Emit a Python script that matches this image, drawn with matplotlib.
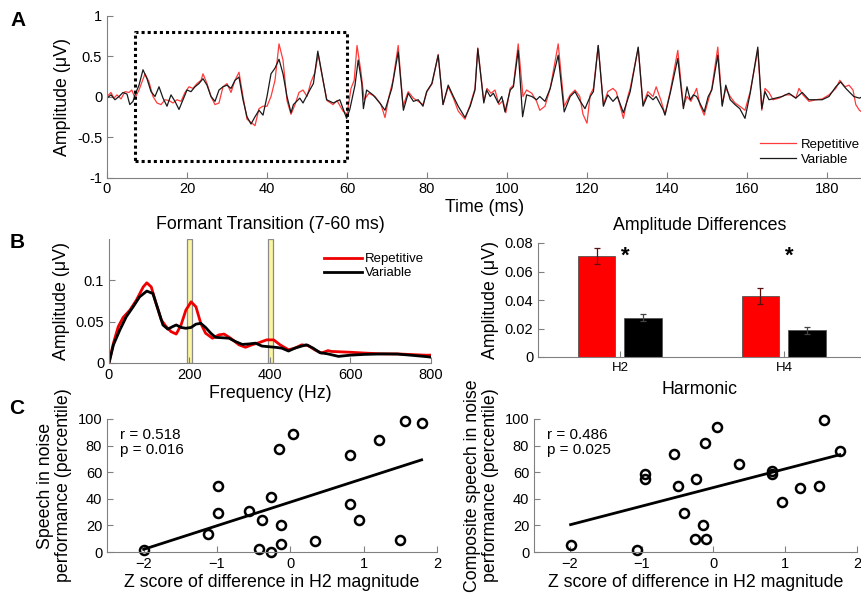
import matplotlib
matplotlib.use('Agg')
import matplotlib.pyplot as plt
import numpy as np

plt.rcParams['font.family'] = ['Liberation Sans', 'DejaVu Sans']
plt.rcParams['xtick.direction'] = 'in'
plt.rcParams['ytick.direction'] = 'in'

# --- panel A: averaged responses (time ms, amplitude uV)
var_t = [0, 1, 2, 3, 4, 5, 5.7, 6.5, 7, 8, 9, 10, 11, 12, 13, 14, 15, 16, 17, 18, 19, 20,
         21, 22, 23, 24, 25, 26, 27, 28, 29, 30, 31, 32, 33, 34, 35, 36, 37, 38, 39, 40,
         41, 42, 43, 44, 45, 46, 46.6, 48.2, 49, 50.7, 51.6, 52.7, 53.7, 54.9, 56.6, 58.2,
         59.9, 60.7, 62, 62.8, 63.7, 64.1, 64.9, 66.5, 68.2, 69.5, 71.2, 72.8, 74.1, 75.3,
         76.6, 77.8, 79, 79.9, 81.2, 82.8, 84, 85.3, 86.6, 87.8, 89.5, 90.8, 92, 92.7, 94.2,
         94.9, 95.8, 96.6, 97.8, 98.7, 99.5, 100.8, 101.6, 102.8, 103.9, 104.9, 106.2, 107.4,
         108.2, 109.5, 110.8, 112.8, 114.3, 115.8, 117, 118.2, 119.5, 120.8, 121.6, 122.8,
         124.1, 125.2, 126.5, 127.6, 129.1, 130.8, 132.8, 134, 135.2, 136.5, 137.3, 139.1,
         139.5, 140.8, 142.7, 144.1, 145, 145.8, 146.6, 147.4, 148.2, 149.3, 150.3, 151.2,
         152.7, 153.8, 154.7, 155.8, 157, 158.2, 159.5, 160.8, 162.7, 163.7, 164.5, 165.5,
         167.2, 168.8, 170.5, 172.2, 173.8, 175.5, 177.2, 178.8, 180.5, 182.2, 183.4, 184.7,
         186.7, 188.1, 189]
var_v = [-0.02, 0.02, -0.04, 0.0, 0.05, 0.03, -0.1, -0.06, 0.02, 0.14, 0.33, 0.22, 0.06, 0.0,
         0.12, -0.02, -0.12, 0.02, -0.06, -0.16, -0.04, 0.08, 0.06, 0.12, 0.16, 0.22, 0.14, 0.0,
         -0.06, 0.08, 0.12, 0.14, 0.1, 0.2, 0.24, -0.04, -0.25, -0.34, -0.25, -0.17, -0.23, 0.0,
         0.28, 0.35, 0.46, 0.28, 0.0, -0.2, -0.1, -0.02, -0.08, 0.08, 0.16, 0.56, 0.29, -0.04,
         -0.08, -0.04, -0.27, -0.16, 0.14, 0.45, 0.16, -0.15, 0.08, 0.02, -0.08, -0.17, 0.1,
         0.55, -0.17, 0.04, -0.06, -0.04, -0.12, 0.06, 0.16, 0.51, -0.1, 0.14, 0.0, -0.12, -0.26,
         -0.12, 0.08, 0.59, -0.08, 0.08, 0.0, 0.04, -0.08, 0.0, -0.19, 0.08, 0.12, 0.57, -0.25,
         0.02, 0.0, -0.04, 0.0, -0.06, 0.1, 0.51, -0.19, 0.0, 0.06, -0.05, -0.15, 0.0, 0.06, 0.63,
         -0.12, 0.02, -0.06, 0.0, -0.2, 0.06, 0.61, -0.12, 0.02, -0.04, 0.0, -0.17, -0.23, 0.04,
         0.47, -0.15, 0.12, -0.04, 0.02, 0.0, -0.08, -0.19, 0.0, 0.08, 0.51, -0.12, 0.14, -0.04,
         -0.1, -0.15, -0.27, 0.04, 0.61, -0.15, 0.06, -0.04, -0.02, 0.0, 0.04, -0.02, 0.05,
         -0.04, -0.04, -0.04, 0.0, 0.12, 0.18, 0.1, 0.0, -0.02, 0.0]

rep_t = [0, 1, 1.7, 2.5, 3.5, 4.5, 5.5, 6.2, 7, 8, 9.5, 10.5, 11.5, 12.5, 13.5, 14.5, 15.5,
         16.5, 17.5, 18.5, 19.5, 20.5, 21.5, 22.5, 23.5, 24, 25, 26, 27, 28, 29, 30, 31, 32,
         33, 34, 35, 36, 37, 38, 39, 40, 41, 42, 43, 44, 45, 46, 47, 48, 49, 50, 51, 52, 52.8,
         53.8, 55, 56.5, 57.5, 59, 60, 61, 61.8, 62.5, 63.5, 64.3, 65.5, 67, 68.5, 69.5, 70.5,
         71.5, 72.8, 74, 75.3, 76.6, 77.8, 79, 80, 81.3, 82.8, 84, 85.3, 86.6, 87.8, 89.5, 90.8,
         92, 92.7, 94.2, 95, 96, 97, 98, 99, 99.7, 100.8, 101.6, 102.8, 104, 104.9, 106.2,
         107.4, 108.2, 109.5, 110.8, 112.8, 114.3, 115.8, 117, 118.2, 119, 120, 120.8, 121.6,
         122.8, 124.1, 125.2, 126.5, 127.3, 128.2, 129.1, 130.2, 130.8, 132.8, 134, 135.2,
         136.5, 137.3, 138.5, 139.5, 140.8, 142.7, 144.1, 145, 146, 147.4, 148.2, 149.3, 150.3,
         151.2, 152.7, 153.8, 154.7, 155.8, 157, 158.2, 159.5, 160.8, 162.7, 163.7, 164.5,
         165.5, 166.5, 168, 169.5, 171, 172.2, 173, 174, 175.5, 177.2, 178.8, 180.5, 182.2,
         183.2, 184.5, 185.5, 186.5, 187.2, 188.1, 189]
rep_v = [0.0, 0.05, -0.02, 0.02, -0.03, 0.06, 0.05, 0.08, -0.02, 0.08, 0.28, 0.18, 0.0, -0.08,
         -0.1, -0.04, -0.05, -0.08, -0.04, -0.06, 0.05, 0.12, 0.1, 0.16, 0.2, 0.28, 0.16, 0.0,
         -0.1, -0.08, 0.12, 0.16, 0.05, 0.2, 0.3, 0.0, -0.28, -0.32, -0.36, -0.15, -0.12, -0.12,
         0.0, 0.2, 0.65, 0.45, -0.05, -0.22, -0.1, 0.05, 0.08, 0.0, 0.18, 0.3, 0.52, 0.25, -0.05,
         -0.1, -0.05, -0.18, -0.22, 0.1, 0.2, 0.63, 0.3, -0.04, 0.04, 0.0, -0.1, -0.26, 0.0, 0.2,
         0.63, -0.12, 0.06, -0.02, -0.06, -0.1, 0.06, 0.16, 0.52, -0.1, 0.12, -0.02, -0.18,
         -0.28, -0.1, 0.1, 0.6, -0.06, 0.1, 0.04, 0.08, -0.1, -0.05, -0.2, 0.1, 0.14, 0.65, 0.0,
         0.08, 0.04, -0.06, -0.17, -0.12, 0.1, 0.65, -0.12, 0.02, 0.08, 0.0, -0.22, -0.33, 0.02,
         0.1, 0.63, -0.1, 0.06, 0.1, 0.06, -0.1, -0.27, 0.0, 0.1, 0.6, -0.1, 0.06, 0.0, 0.12,
         -0.05, -0.22, 0.06, 0.57, -0.12, 0.0, -0.06, 0.1, -0.1, -0.23, -0.05, 0.1, 0.61, -0.1,
         0.1, 0.0, -0.08, -0.12, -0.17, 0.06, 0.57, -0.17, 0.1, 0.05, -0.04, -0.02, 0.02, 0.02,
         -0.02, 0.1, 0.02, -0.06, -0.04, -0.03, 0.02, 0.1, 0.2, 0.12, 0.14, 0.08, -0.1, -0.17,
         -0.2]

# --- panel B left: spectra of the formant transition
rep_f = [0, 11, 23, 35, 52, 68, 85, 94, 105, 117, 130, 142, 154, 167, 179, 191, 204, 216,
         228, 240, 257, 273, 286, 302, 323, 339, 355, 372, 392, 409, 425, 446, 462, 479, 495,
         511, 528, 544, 552, 600, 635, 680, 717, 760, 791, 800]
rep_a = [0, 0.024, 0.044, 0.055, 0.064, 0.076, 0.092, 0.097, 0.092, 0.072, 0.052, 0.044,
         0.038, 0.035, 0.046, 0.064, 0.074, 0.068, 0.048, 0.036, 0.030, 0.034, 0.035, 0.030,
         0.022, 0.019, 0.022, 0.0245, 0.028, 0.028, 0.022, 0.016, 0.018, 0.022, 0.021, 0.016,
         0.012, 0.015, 0.014, 0.013, 0.012, 0.011, 0.011, 0.010, 0.0094, 0.0096]
var_f = [0, 11, 27, 43, 60, 76, 94, 109, 121, 134, 146, 158, 167, 179, 191, 204, 216, 228,
         240, 253, 265, 282, 298, 314, 331, 347, 364, 380, 397, 413, 429, 446, 462, 479, 491,
         507, 524, 544, 570, 600, 635, 680, 717, 760, 791, 800]
var_a = [0, 0.022, 0.04, 0.056, 0.068, 0.08, 0.087, 0.084, 0.066, 0.046, 0.041, 0.044, 0.046,
         0.043, 0.042, 0.043, 0.047, 0.048, 0.043, 0.036, 0.031, 0.0305, 0.030, 0.026, 0.0225,
         0.023, 0.024, 0.0205, 0.0197, 0.019, 0.018, 0.0145, 0.018, 0.0205, 0.022, 0.018,
         0.0125, 0.011, 0.008, 0.0095, 0.0104, 0.011, 0.0108, 0.009, 0.0076, 0.007]
bands = [(195, 206), (396, 407)]

# --- panel B right: harmonic amplitudes
harmonics = ['H2', 'H4']
rep_amp = [0.0707, 0.0430]
rep_err = [0.0055, 0.0056]
var_amp = [0.0276, 0.0187]
var_err = [0.0025, 0.0023]

# --- panel C: correlations
zL = [-2.0, -1.12, -0.99, -0.99, -0.56, -0.39, -0.43, -0.26, -0.26, -0.13, -0.13, -0.16,
      0.04, 0.34, 0.81, 0.81, 0.94, 1.21, 1.49, 1.56, 1.79]
sinL = [1.8, 13.9, 29, 49.6, 31, 24, 2.3, 0, 41, 20, 6.3, 77.6, 89, 8.6, 73, 36, 24, 84, 8.8,
        98.7, 97]
zR = [-1.99, -1.07, -0.95, -0.95, -0.55, -0.49, -0.41, -0.24, -0.25, -0.10, -0.15, -0.12,
      0.05, 0.35, 0.82, 0.82, 0.95, 1.2, 1.47, 1.54, 1.76]
sinR = [5.5, 1.5, 59, 55, 74, 50, 29.5, 55, 9.8, 9.8, 20, 82, 94, 66.5, 61, 58.7, 37.5, 48,
        50, 99, 76]

W, H = 862, 595
fig = plt.figure(figsize=(W / 100, H / 100), dpi=100)
gray = '#808080'
LAB = 12.8
TCK = 10.5


def box(l, t, r, b):
    return [l / W, 1 - b / H, (r - l) / W, (b - t) / H]


def style(ax):
    for s in ['top', 'right']:
        ax.spines[s].set_visible(False)
    for s in ['left', 'bottom']:
        ax.spines[s].set_color(gray)
    ax.tick_params(colors=gray, labelcolor='k', labelsize=TCK, length=4)


# A
ax = fig.add_axes(box(107, 15.5, 863, 177.5))
style(ax)
ax.plot(rep_t, rep_v, color='#ff3b3b', lw=0.9, label='Repetitive')
ax.plot(var_t, var_v, color='#1a1a1a', lw=0.9, label='Variable')
ax.plot([7, 60, 60, 7, 7], [-0.8, -0.8, 0.8, 0.8, -0.8], color='k', lw=2.2, ls=(0, (1, 1)))
ax.set_xlim(0, 189)
ax.set_ylim(-1, 1)
ax.set_xticks(range(0, 181, 20))
ax.set_yticks([-1, -0.5, 0, 0.5, 1])
ax.set_yticklabels(['-1', '-0.5', '0', '0.5', '1'])
ax.set_xlabel('Time (ms)', fontsize=LAB, labelpad=2)
ax.set_ylabel('Amplitude (\u03bcV)', fontsize=LAB)
leg = ax.legend(loc='lower right', bbox_to_anchor=(1.005, 0.03), frameon=False, fontsize=9.5,
                handlelength=2.7, handletextpad=0.4, labelspacing=0.25, borderpad=0)

# B left
ax = fig.add_axes(box(109, 239, 431, 363))
style(ax)
for lo, hi in bands:
    ax.axvspan(lo, hi, facecolor='#fbf5a0', edgecolor='#8a8a8a', lw=0.9)
ax.plot(rep_f, rep_a, color='#ee0000', lw=2, label='Repetitive')
ax.plot(var_f, var_a, color='k', lw=2, label='Variable')
ax.set_xlim(0, 800)
ax.set_ylim(0, 0.15)
ax.set_xticks([0, 200, 400, 600, 800])
ax.set_yticks([0, 0.05, 0.1])
ax.set_yticklabels(['0', '0.05', '0.1'])
ax.set_xlabel('Frequency (Hz)', fontsize=LAB, labelpad=2)
ax.set_ylabel('Amplitude (\u03bcV)', fontsize=LAB)
ax.set_title('Formant Transition (7-60 ms)', fontsize=LAB, pad=7)
ax.legend(loc='upper right', bbox_to_anchor=(1.0, 0.94), frameon=False, fontsize=9.5,
          handlelength=2.9, handletextpad=0.25, labelspacing=0.15, borderpad=0)

# B right
ax = fig.add_axes(box(538, 243, 861, 357))
style(ax)
pos = np.arange(1, len(harmonics) + 1)
bw = 0.23
ax.bar(pos - 0.143, rep_amp, bw, yerr=rep_err, color='#ff0000', edgecolor='#555555', lw=0.6,
       error_kw=dict(ecolor='#5a1010', elinewidth=0.9, capsize=2, capthick=0.9))
ax.bar(pos + 0.14, var_amp, bw, yerr=var_err, color='k', edgecolor='#555555', lw=0.6,
       error_kw=dict(ecolor='#444444', elinewidth=0.9, capsize=2, capthick=0.9))
for p in pos:
    ax.text(p + 0.03, 0.0705, '*', fontsize=16, fontweight='bold', ha='center', va='center')
ax.set_xlim(0.5, 2.47)
ax.set_ylim(0, 0.08)
ax.set_xticks(pos)
ax.set_xticklabels(harmonics, fontsize=9.5)
ax.set_yticks([0, 0.02, 0.04, 0.06, 0.08])
ax.set_yticklabels(['0', '0.02', '0.04', '0.06', '0.08'])
ax.set_xlabel('Harmonic', fontsize=LAB, labelpad=5)
ax.set_ylabel('Amplitude (\u03bcV)', fontsize=LAB)
ax.set_title('Amplitude Differences', fontsize=LAB, pad=9)

# C
panels = [(107, 437, zL, sinL, 'Speech in noise\nperformance (percentile)',
           'r = 0.518\np = 0.016'),
          (534, 857, zR, sinR, 'Composite speech in noise\nperformance (percentile)',
           'r = 0.486\np = 0.025')]
for left, right, zx, sy, ylab, stat in panels:
    ax = fig.add_axes(box(left, 419, right, 552))
    style(ax)
    zx = np.array(zx)
    k, b0 = np.polyfit(zx, sy, 1)
    xs = np.array([zx.min(), zx.max()])
    ax.plot(xs, k * xs + b0, color='k', lw=2)
    ax.plot(zx, sy, 'o', mfc='none', mec='k', mew=1.8, ms=6.5, clip_on=False)
    ax.set_xlim(-2.5, 2)
    ax.set_ylim(0, 100)
    ax.set_xticks([-2, -1, 0, 1, 2])
    ax.set_yticks(range(0, 101, 20))
    ax.set_xlabel('Z score of difference in H2 magnitude', fontsize=LAB, labelpad=2)
    ax.set_ylabel(ylab, fontsize=LAB, linespacing=1.05)
    ax.text(0.04, 0.93, stat, transform=ax.transAxes, fontsize=11, va='top', linespacing=1.1)

for lab, x, y in [('A', 18, 20), ('B', 17, 242), ('C', 17, 408)]:
    fig.text(x / W, 1 - y / H, lab, fontsize=15, fontweight='bold', ha='center', va='center')

fig.savefig('out.png', dpi=100)
